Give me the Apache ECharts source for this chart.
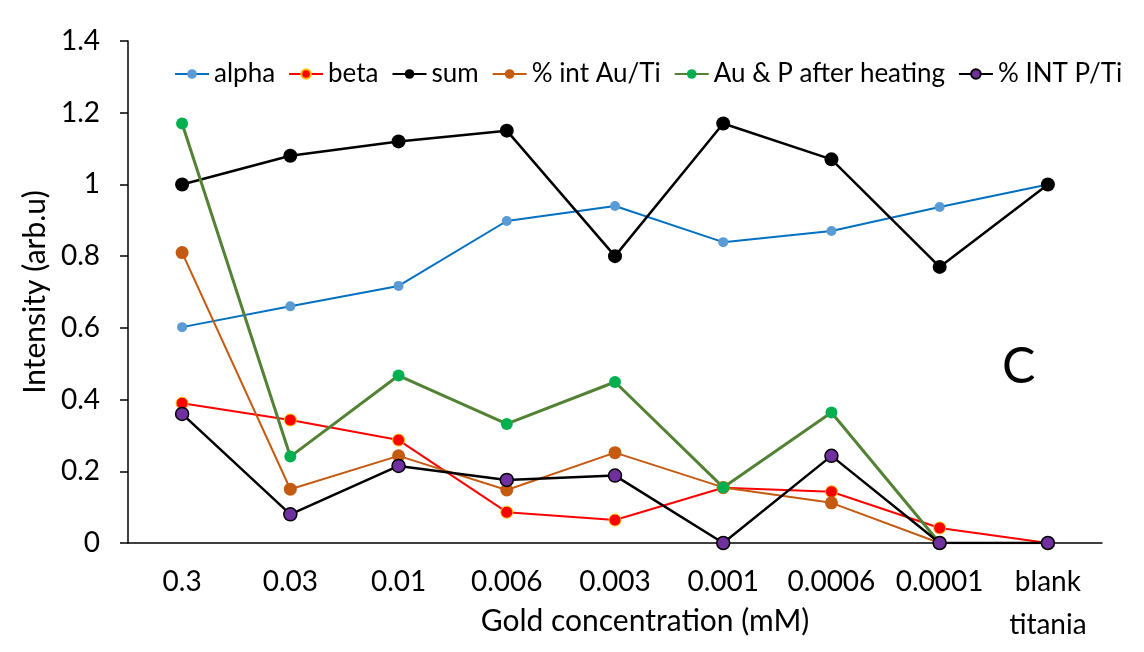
<!DOCTYPE html>
<html><head><meta charset="utf-8">
<script src="https://cdn.jsdelivr.net/npm/echarts@6/dist/echarts.min.js"></script>
<style>html,body{margin:0;padding:0;background:#fff}#c{width:1144px;height:652px}</style>
</head><body><div id="c"></div>
<script>
const categories = ['0.3','0.03','0.01','0.006','0.003','0.001','0.0006','0.0001','blank\ntitania'];
const yTicks = [0, 0.2, 0.4, 0.6, 0.8, 1, 1.2, 1.4];
const alpha = [0.602, 0.660, 0.717, 0.898, 0.940, 0.839, 0.870, 0.937, 1.0];
const beta = [0.390, 0.343, 0.287, 0.086, 0.064, 0.154, 0.143, 0.042, 0];
const sum = [1.0, 1.08, 1.12, 1.15, 0.80, 1.17, 1.07, 0.77, 1.0];
const intAuTi = [0.81, 0.150, 0.243, 0.148, 0.252, 0.155, 0.112, 0, null];
const auPHeat = [1.17, 0.241, 0.467, 0.332, 0.449, 0.155, 0.364, 0, null];
const intPTi = [0.36, 0.080, 0.215, 0.176, 0.188, 0, 0.243, 0, 0];

const FONT = 'Lato';
const chart = echarts.init(document.getElementById('c'));
function s(name, data, lineColor, markColor, size, border, bw, lw) {
  return {
    name, type: 'line', data, symbol: 'circle', symbolSize: size,
    lineStyle: { color: lineColor, width: lw },
    itemStyle: { color: markColor, borderColor: border || markColor, borderWidth: bw || 0 },
    emphasis: { disabled: true }, animation: false, connectNulls: false
  };
}
chart.setOption({
  animation: false,
  textStyle: { fontFamily: FONT },
  grid: { left: 128, top: 41, right: 42, bottom: 109, outerBoundsMode: 'none', containLabel: false },
  legend: {
    left: 169, top: 56, width: 990, itemGap: 13, itemWidth: 34, itemHeight: 12,
    textStyle: { fontFamily: FONT, fontSize: 26, color: '#000' },
    data: ['alpha','beta','sum','% int Au/Ti','Au & P after heating','% INT P/Ti']
  },
  xAxis: {
    type: 'category', data: categories, boundaryGap: true,
    axisLine: { lineStyle: { color: '#000', width: 1.5 } },
    axisTick: { show: false },
    axisLabel: { color: '#000', fontSize: 28, margin: 17, fontFamily: FONT, lineHeight: 43, interval: 0 },
    name: 'Gold concentration (mM)', nameLocation: 'middle', nameGap: 63, nameMoveOverlap: false,
    nameTextStyle: { color: '#000', fontSize: 30, fontFamily: FONT, padding: [0, 0, 0, 60] }
  },
  yAxis: {
    type: 'value', min: 0, max: 1.4, interval: 0.2,
    axisLine: { show: true, lineStyle: { color: '#000', width: 1.5 } },
    axisTick: { show: true, inside: false, length: 8, lineStyle: { color: '#000', width: 1.5 } },
    splitLine: { show: false },
    axisLabel: { color: '#000', fontSize: 28, margin: 28, fontFamily: FONT,
      formatter: v => { const t = yTicks.find(x => Math.abs(x - v) < 1e-9); return t === undefined ? '' : String(t); } },
    name: 'Intensity (arb.u)', nameLocation: 'middle', nameGap: 78, nameMoveOverlap: false,
    nameTextStyle: { color: '#000', fontSize: 30, fontFamily: FONT }
  },
  graphic: [{ type: 'text', left: 1002, top: 342, style: { text: 'C', fontSize: 50, fontFamily: FONT, fill: '#000' } }],
  series: [
    s('alpha', alpha, '#0070C0', '#5B9BD5', 10, null, 0, 2),
    s('beta', beta, '#FF0000', '#FF0000', 12, '#FFC000', 1, 2),
    s('sum', sum, '#000000', '#000000', 14, null, 0, 2.5),
    s('% int Au/Ti', intAuTi, '#C55A11', '#C55A11', 13, null, 0, 2),
    s('Au & P after heating', auPHeat, '#548235', '#00B050', 12, null, 0, 3),
    s('% INT P/Ti', intPTi, '#000000', '#7030A0', 13, '#000000', 1.5, 2.5)
  ]
});
</script></body></html>
